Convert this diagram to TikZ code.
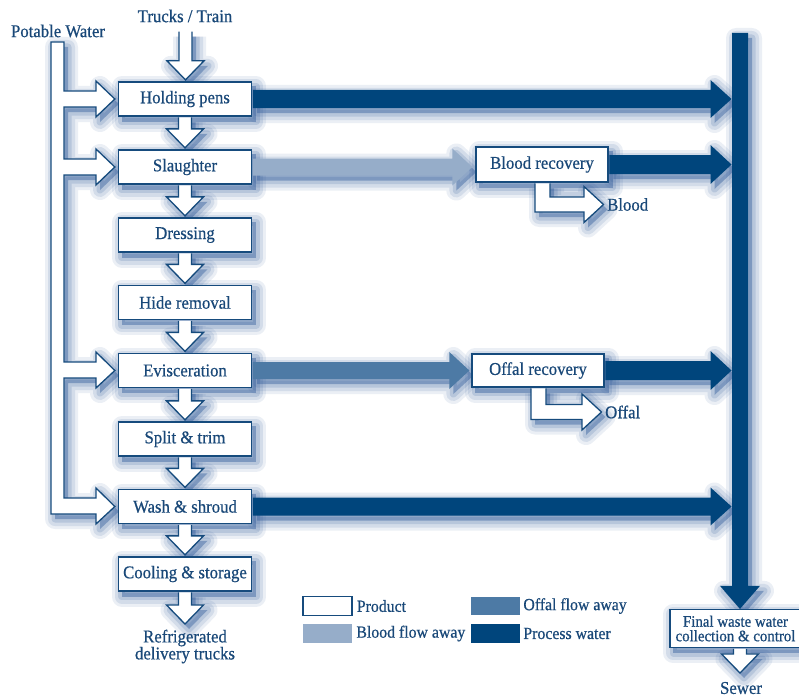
\documentclass[tikz,border=0pt]{standalone}
\usepackage{fontspec}
\setmainfont{Liberation Serif}[FakeStretch=0.93,FakeBold=0.6]
\usetikzlibrary{calc}
\definecolor{pw}{RGB}{0,69,124}
\definecolor{offc}{RGB}{77,122,165}
\definecolor{bldc}{RGB}{150,173,201}
\definecolor{outl}{RGB}{22,75,125}
\definecolor{txt}{RGB}{25,72,120}
\definecolor{shc}{RGB}{40,85,150}
\pgfdeclarelayer{back}\pgfdeclarelayer{bg}\pgfsetlayers{back,bg,main}
\tikzset{
 box/.style={draw=outl, line width=1.3pt, fill=white, minimum width=133pt, minimum height=34pt, inner sep=0pt, text=txt, font=\fontsize{18}{20}\selectfont},
 lbl/.style={text=txt, inner sep=0pt, font=\fontsize{18}{20}\selectfont},
 lgl/.style={text=txt, inner sep=0pt, anchor=west, font=\fontsize{17}{19}\selectfont},
 lgbox/.style={minimum width=49pt, minimum height=18.5pt, inner sep=0pt},
 prodarr/.style={draw=outl, line width=1.3pt, fill=white, line join=miter},
 pwarr/.style={fill=pw},
 bldarr/.style={fill=bldc},
 offarr/.style={fill=offc},
 shadowpath/.style={line join=round,
   preaction={draw=shc, line width=20pt, opacity=0.09, line join=round},
   preaction={draw=shc, line width=14pt, opacity=0.12, line join=round},
   preaction={draw=shc, line width=7pt, opacity=0.16, line join=round},
   fill=shc, fill opacity=0.4},
}
\newcommand\shp[2]{%
 \begin{pgfonlayer}{bg}\begin{scope}[transform canvas={xshift=4pt,yshift=-5pt}]\path[shadowpath] #2;\end{scope}\end{pgfonlayer}%
 \path[#1] #2;}
% down hollow arrow: from point #1 (top) to point #2 (tip target)
\newcommand\darr[2]{\shp{prodarr}{let \p1=(#1), \p2=(#2) in (\x1-6.5pt,\y1-0.7pt) -- (\x1-6.5pt,\y2+20.5pt) -- (\x1-18.5pt,\y2+20.5pt) -- (\x1,\y2+1.5pt) -- (\x1+18.5pt,\y2+20.5pt) -- (\x1+6.5pt,\y2+20.5pt) -- (\x1+6.5pt,\y1-0.7pt)}}
% horizontal filled arrow: style, from, to, shaft half, head half, head length
\newcommand\harr[6]{\shp{#1}{let \p1=(#2), \p2=(#3) in (\x1,\y1+#4pt) -- (\x2-#6pt,\y1+#4pt) -- (\x2-#6pt,\y1+#5pt) -- (\x2,\y1) -- (\x2-#6pt,\y1-#5pt) -- (\x2-#6pt,\y1-#4pt) -- (\x1,\y1-#4pt) -- cycle}}
% L-shaped hollow arrow from box bottom #1 to text west #2
\newcommand\larr[2]{\shp{prodarr}{let \p1=(#1), \p2=(#2) in (\x1-7pt,\y1-0.7pt) -- (\x1-7pt,\y2-7.5pt) -- (\x2-23pt,\y2-7.5pt) -- (\x2-23pt,\y2-18pt) -- (\x2-3.5pt,\y2) -- (\x2-23pt,\y2+18pt) -- (\x2-23pt,\y2+7.5pt) -- (\x1+8pt,\y2+7.5pt) -- (\x1+8pt,\y1-0.7pt)}}
\begin{document}
\begin{tikzpicture}[x=1pt,y=-1pt]
\useasboundingbox (0,0) rectangle (799,698);
\begin{pgfonlayer}{back}\fill[white] (0,0) rectangle (799,698);\end{pgfonlayer}
% main boxes
\node[box] (hp) at (185,99) {Holding pens};
\node[box] (sl) at (185,167) {Slaughter};
\node[box] (dr) at (185,235) {Dressing};
\node[box] (hr) at (185,302.5) {Hide removal};
\node[box] (ev) at (185,370.5) {Evisceration};
\node[box] (st) at (185,439) {Split \& trim};
\node[box] (ws) at (185,506.5) {Wash \& shroud};
\node[box] (cs) at (185,574) {Cooling \& storage};
\node[box, minimum width=132pt, minimum height=35pt] (br) at (542,164.5) {Blood recovery};
\node[box, minimum width=132pt, minimum height=33pt] (ofr) at (538,370.5) {Offal recovery};
\node[box, minimum width=131pt, minimum height=38pt, align=center, font=\fontsize{16}{14.5}\selectfont] (fw) at (735.5,628.5) {Final waste water\\collection \& control};
\foreach \n in {hp,sl,dr,hr,ev,st,ws,cs,br,ofr,fw}{%
 \begin{pgfonlayer}{bg}\begin{scope}[transform canvas={xshift=4pt,yshift=-5pt}]\path[shadowpath] (\n.north west) rectangle (\n.south east);\end{scope}\end{pgfonlayer}}
% labels
\node[lbl] (tt) at (185,16) {Trucks / Train};
\node[lbl] (pwt) at (58,31) {Potable Water};
\node[lbl, align=center, font=\fontsize{18}{17}\selectfont] (rdt) at (185,646.5) {Refrigerated\\delivery trucks};
\node[lbl] (sew) at (741,688) {Sewer};
\node[lbl, anchor=west] (bld) at (607,204.5) {Blood};
\node[lbl, anchor=west] (ofl) at (605,412) {Offal};
\coordinate (ttb) at (185.5,31);
\coordinate (rdtop) at (185,625.5);
\coordinate (sewtip) at (740,674.5);
\coordinate (bartop) at (740,33);
\coordinate (barl) at (731.5,33);
% potable water pipe
\shp{prodarr}{(51,42) -- (64,42) -- (64,91) -- (96,91) -- (96,81) -- ($(hp.west)+(-3,0)$) -- (96,117) -- (96,107) -- (64,107) -- (64,159) -- (96,159) -- (96,149) -- ($(sl.west)+(-3,0)$) -- (96,185) -- (96,175) -- (64,175) -- (64,362) -- (96,362) -- (96,352) -- ($(ev.west)+(-3,0)$) -- (96,388) -- (96,378) -- (64,378) -- (64,498) -- (96,498) -- (96,488) -- ($(ws.west)+(-3,0)$) -- (96,524) -- (96,514) -- (51,514) -- cycle}
% product arrows
\darr{ttb}{hp.north}
\darr{hp.south}{sl.north}
\darr{sl.south}{dr.north}
\darr{dr.south}{hr.north}
\darr{hr.south}{ev.north}
\darr{ev.south}{st.north}
\darr{st.south}{ws.north}
\darr{ws.south}{cs.north}
\darr{cs.south}{rdtop}
\darr{fw.south -| sewtip}{sewtip}
% blood / offal flows
\harr{bldarr}{$(sl.east)+(0.7,0)$}{$(br.west)+(-3,0)$}{8.5}{18.5}{20}
\harr{offarr}{$(ev.east)+(0.7,0)$}{$(ofr.west)+(-2,0)$}{8.5}{18.5}{20}
\larr{br.south}{bld.west}
\larr{ofr.south}{ofl.west}
% process water
\harr{pwarr}{$(hp.east)+(0.7,0)$}{barl}{9}{19}{21}
\harr{pwarr}{$(br.east)+(0.7,0)$}{barl}{9.5}{19.5}{21}
\harr{pwarr}{$(ofr.east)+(0.7,0)$}{barl}{9.5}{19.5}{21}
\harr{pwarr}{$(ws.east)+(0.7,0)$}{barl}{9}{19}{21}
\shp{pwarr}{let \p1=(bartop), \p2=(fw.north -| bartop) in (\x1-8pt,\y1) -- (\x1-8pt,\y2+23pt) -- (\x1-20pt,\y2+23pt) -- (\x1,\y2) -- (\x1+20pt,\y2+23pt) -- (\x1+8pt,\y2+23pt) -- (\x1+8pt,\y1) -- cycle}
% legend
\node[lgbox, draw=outl, line width=1.3pt, fill=white] (lgp) at (327.5,606) {};
\node[lgbox, fill=bldc] (lgb) at (327.5,633.5) {};
\node[lgbox, fill=offc] (lgo) at (495.5,606) {};
\node[lgbox, fill=pw] (lgw) at (495.5,633.5) {};
\node[lgl] (lgpt) at ($(lgp.east)+(4,0)$) {Product};
\node[lgl] (lgbt) at ($(lgb.east)+(4,0)$) {Blood flow away};
\node[lgl] (lgot) at ($(lgo.east)+(3,0)$) {Offal flow away};
\node[lgl] (lgwt) at ($(lgw.east)+(3,0)$) {Process water};
\end{tikzpicture}
\end{document}
